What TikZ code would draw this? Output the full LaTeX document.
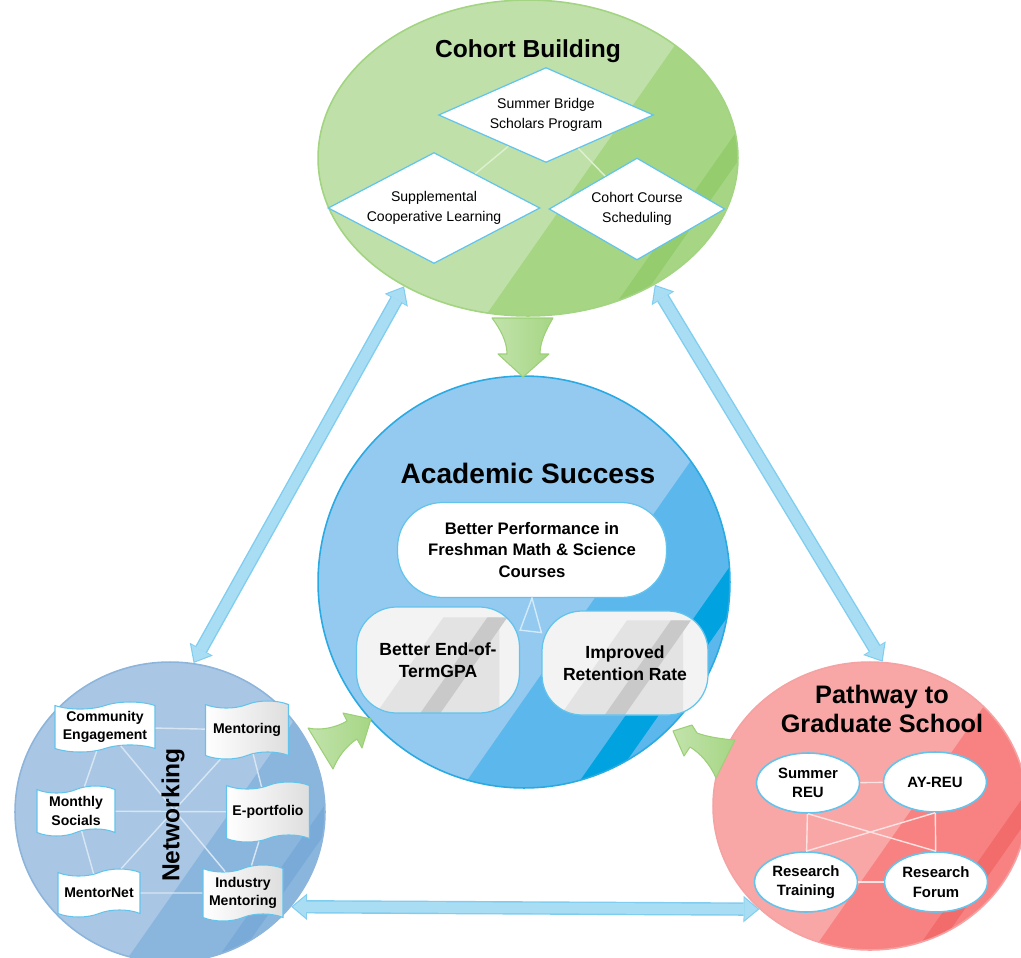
\documentclass[tikz,border=0pt]{standalone}
\usepackage{fontspec}
\setmainfont{Liberation Sans}
\usetikzlibrary{shapes.geometric,shapes.symbols,arrows.meta}

\definecolor{cohortLight}{HTML}{BFE1A9}
\definecolor{cohortMid}{HTML}{A6D684}
\definecolor{cohortDark}{HTML}{94CC6E}
\definecolor{cohortEdge}{HTML}{A2D482}
\definecolor{cohortTie}{HTML}{DDF0D0}
\definecolor{acadLight}{HTML}{94C9F0}
\definecolor{acadMid}{HTML}{5CB8EC}
\definecolor{acadDark}{HTML}{00A3E0}
\definecolor{acadEdge}{HTML}{2AAAE2}
\definecolor{acadTie}{HTML}{D2EAFA}
\definecolor{netLight}{HTML}{A9C7E4}
\definecolor{netMid}{HTML}{8AB6DE}
\definecolor{netDark}{HTML}{7AAAD8}
\definecolor{netEdge}{HTML}{8DB5DC}
\definecolor{netTie}{HTML}{D8E6F3}
\definecolor{gradLight}{HTML}{F9A6A6}
\definecolor{gradMid}{HTML}{F88282}
\definecolor{gradDark}{HTML}{F26C6C}
\definecolor{gradEdge}{HTML}{F5A2A2}
\definecolor{gradTie}{HTML}{FDE2E2}
\definecolor{boxEdge}{HTML}{62C4EC}
\definecolor{goalBase}{HTML}{F3F3F3}
\definecolor{goalBand}{HTML}{E3E3E3}
\definecolor{goalStripe}{HTML}{C9C9C9}
\definecolor{linkFill}{HTML}{A8DDF4}
\definecolor{linkEdge}{HTML}{7FCDEF}
\definecolor{flowLight}{HTML}{C2E3AC}
\definecolor{flowFill}{HTML}{A6D684}
\definecolor{flowEdge}{HTML}{9CD076}

\tikzset{
  hub/.style={ellipse, draw=#1Edge, fill=#1Light, line width=0.9pt, inner sep=0pt},
  gloss/.style n args={5}{path picture={
    \begin{scope}[shift={(path picture bounding box.center)}, sharp corners]
      \fill[#1] ({#3+245},-350) -- ({#3-245},350) -- (700,350) -- (700,-350) -- cycle;
      \fill[#2] ({#4+245},-350) -- ({#5+245},-350) -- ({#5-245},350) -- ({#4-245},350) -- cycle;
    \end{scope}}},
  title/.style={font=\bfseries\fontsize{14}{16.5}\selectfont, align=center, inner sep=0pt},
  pick/.style={diamond, draw=boxEdge, fill=white, line width=0.7pt, inner sep=0pt,
    align=center, font=\fontsize{8}{11}\selectfont},
  goal/.style={rectangle, draw=boxEdge, line width=0.7pt, rounded corners=0.8cm,
    align=center, font=\bfseries\fontsize{10}{12.5}\selectfont},
  sheen/.style={fill=goalBase, path picture={
    \begin{scope}[shift={(path picture bounding box.center)}, sharp corners]
      \fill[goalBand] ({22+42},-60) -- ({22-42},60) -- (120,60) -- (120,-60) -- cycle;
      \fill[goalStripe] ({66+42},-60) -- ({86+42},-60) -- ({86-42},60) -- ({66-42},60) -- cycle;
    \end{scope}}},
  activity/.style={tape, draw=boxEdge, line width=0.6pt, tape bend height=4pt, inner sep=1pt,
    align=center, font=\bfseries\fontsize{8}{10.5}\selectfont},
  greyed/.style={left color=white, right color=black!13},
  track/.style={ellipse, draw=boxEdge, fill=white, line width=0.9pt, inner sep=0pt,
    minimum width=2.06cm, minimum height=1.2cm, align=center,
    font=\bfseries\fontsize{8.5}{11}\selectfont},
  tie/.style={draw=#1, line width=0.8pt},
  link/.style={line width=7.6pt, draw=linkEdge,
    {Triangle[width=15pt,length=9pt,line width=0pt]}-{Triangle[width=15pt,length=9pt,line width=0pt]}},
  linkcore/.style={line width=6pt, draw=linkFill, shorten <=1pt, shorten >=1pt,
    {Triangle[width=12.5pt,length=7.5pt,line width=0pt]}-{Triangle[width=12.5pt,length=7.5pt,line width=0pt]}},
  flow/.style={left color=flowLight, right color=flowFill, draw=flowEdge, line width=0.6pt, line join=round},
}

\begin{document}
\begin{tikzpicture}[x=0.02cm, y=-0.02cm]
  \useasboundingbox (0,0) rectangle (1021,957);

  \node[hub=cohort, gloss={cohortMid}{cohortDark}{68}{190}{212},
        minimum width=8.4cm, minimum height=6.32cm] (cohort) at (528,158) {};
  \node[hub=acad, gloss={acadMid}{acadDark}{82}{195}{228},
        minimum width=8.24cm, minimum height=8.24cm] (acad) at (524,582) {};
  \node[hub=net, gloss={netMid}{netDark}{60}{150}{170},
        minimum width=6.2cm, minimum height=6cm] (net) at (170,812) {};
  \node[hub=grad, gloss={gradMid}{gradDark}{44}{147}{167},
        minimum width=6.28cm, minimum height=5.76cm] (grad) at (870,806) {};

  % cohort building
  \node[title] (cohortTitle) at (528,51) {Cohort Building};
  \node[pick, aspect=2.26, minimum width=4.3cm, minimum height=1.9cm] (bridge) at (546,115) {Summer Bridge\\Scholars Program};
  \node[pick, aspect=1.9, minimum width=4.24cm, minimum height=2.22cm] (suppl) at (434,208) {Supplemental\\Cooperative Learning};
  \node[pick, aspect=1.73, minimum width=3.52cm, minimum height=2.04cm] (sched) at (637,209) {Cohort Course\\Scheduling};
  \draw[tie=cohortTie] (bridge) -- (suppl);
  \draw[tie=cohortTie] (bridge) -- (sched);

  % academic success
  \node[title, font=\bfseries\fontsize{16}{18}\selectfont] (acadTitle) at (528,473) {Academic Success};
  \node[goal, fill=white, minimum width=5.38cm, minimum height=1.9cm, rounded corners=0.9cm,
        font=\bfseries\fontsize{9.5}{12.3}\selectfont] (perf) at (532,550) {Better Performance in\\Freshman Math \& Science\\Courses};
  \node[goal, sheen, minimum width=3.26cm, minimum height=2.12cm] (gpa) at (438,660) {Better End-of-\\TermGPA};
  \node[goal, sheen, minimum width=3.32cm, minimum height=2.08cm] (retain) at (625,663) {Improved\\Retention Rate};
  \draw[tie=acadTie] (perf.south) -- (gpa.20) -- (retain.160) -- cycle;

  % networking
  \node[activity, fill=white, minimum width=2cm, minimum height=1cm] (community) at (105,727) {Community\\Engagement};
  \node[activity, greyed, minimum width=1.66cm, minimum height=1.16cm] (mentoring) at (247,730) {Mentoring};
  \node[activity, fill=white, minimum width=1.56cm, minimum height=1cm] (socials) at (76,811) {Monthly\\Socials};
  \node[activity, greyed, minimum width=1.66cm, minimum height=1.2cm] (portfolio) at (268,812) {E-portfolio};
  \node[activity, fill=white, minimum width=1.64cm, minimum height=0.96cm] (mentornet) at (99,893) {MentorNet};
  \node[activity, greyed, minimum width=1.6cm, minimum height=1.12cm] (industry) at (243,893) {Industry\\Mentoring};
  \foreach \a/\b in {community/mentoring, mentoring/portfolio, portfolio/industry,
                     industry/mentornet, mentornet/socials, socials/community,
                     community/industry, mentoring/mentornet, socials/portfolio}
    \draw[tie=netTie] (\a) -- (\b);
  \node[title, rotate=90] (netTitle) at (173,815) {Networking};

  % pathway to graduate school
  \node[title, font=\bfseries\fontsize{14.4}{16.5}\selectfont] (gradTitle) at (882,709) {Pathway to\\Graduate School};
  \node[track] (summer) at (808,783) {Summer\\REU};
  \node[track] (ayreu) at (935,782) {AY-REU};
  \node[track] (training) at (806,882) {Research\\Training};
  \node[track] (forum) at (936,882) {Research\\Forum};
  \foreach \a/\b in {summer/ayreu, training/forum, summer/training, ayreu/forum}
    \draw[tie=gradTie] (\a) -- (\b);
  \draw[tie=gradTie] (summer.south) -- (forum.north);
  \draw[tie=gradTie] (ayreu.south) -- (training.north);

  % two-way links between the outer circles
  \foreach \a/\b in {net.81.6/cohort.226.8, cohort.-45.7/grad.85.2, net.-38.4/grad.-137.9} {
    \draw[link] (\a) -- (\b);
    \draw[linkcore] (\a) -- (\b);
  }

  % feeds into academic success
  \path[flow] (492,318) -- (553,318) .. controls (546,330) and (540,342) .. (540,354)
    -- (549,354) -- (523,377) -- (498,354) -- (507,354) .. controls (507,342) and (501,330) .. (492,318) -- cycle;
  \path[flow] (308,728) .. controls (322,731) and (337,727) .. (347,721) -- (343,713) -- (371,719)
    -- (362,748) -- (357,739) .. controls (346,746) and (338,757) .. (333,769) -- cycle;
  \path[flow] (735,740) .. controls (722,739) and (708,737) .. (697,733) -- (692,725) -- (673,731)
    -- (684,756) -- (690,747) .. controls (700,753) and (710,764) .. (716,778) -- cycle;
\end{tikzpicture}
\end{document}
